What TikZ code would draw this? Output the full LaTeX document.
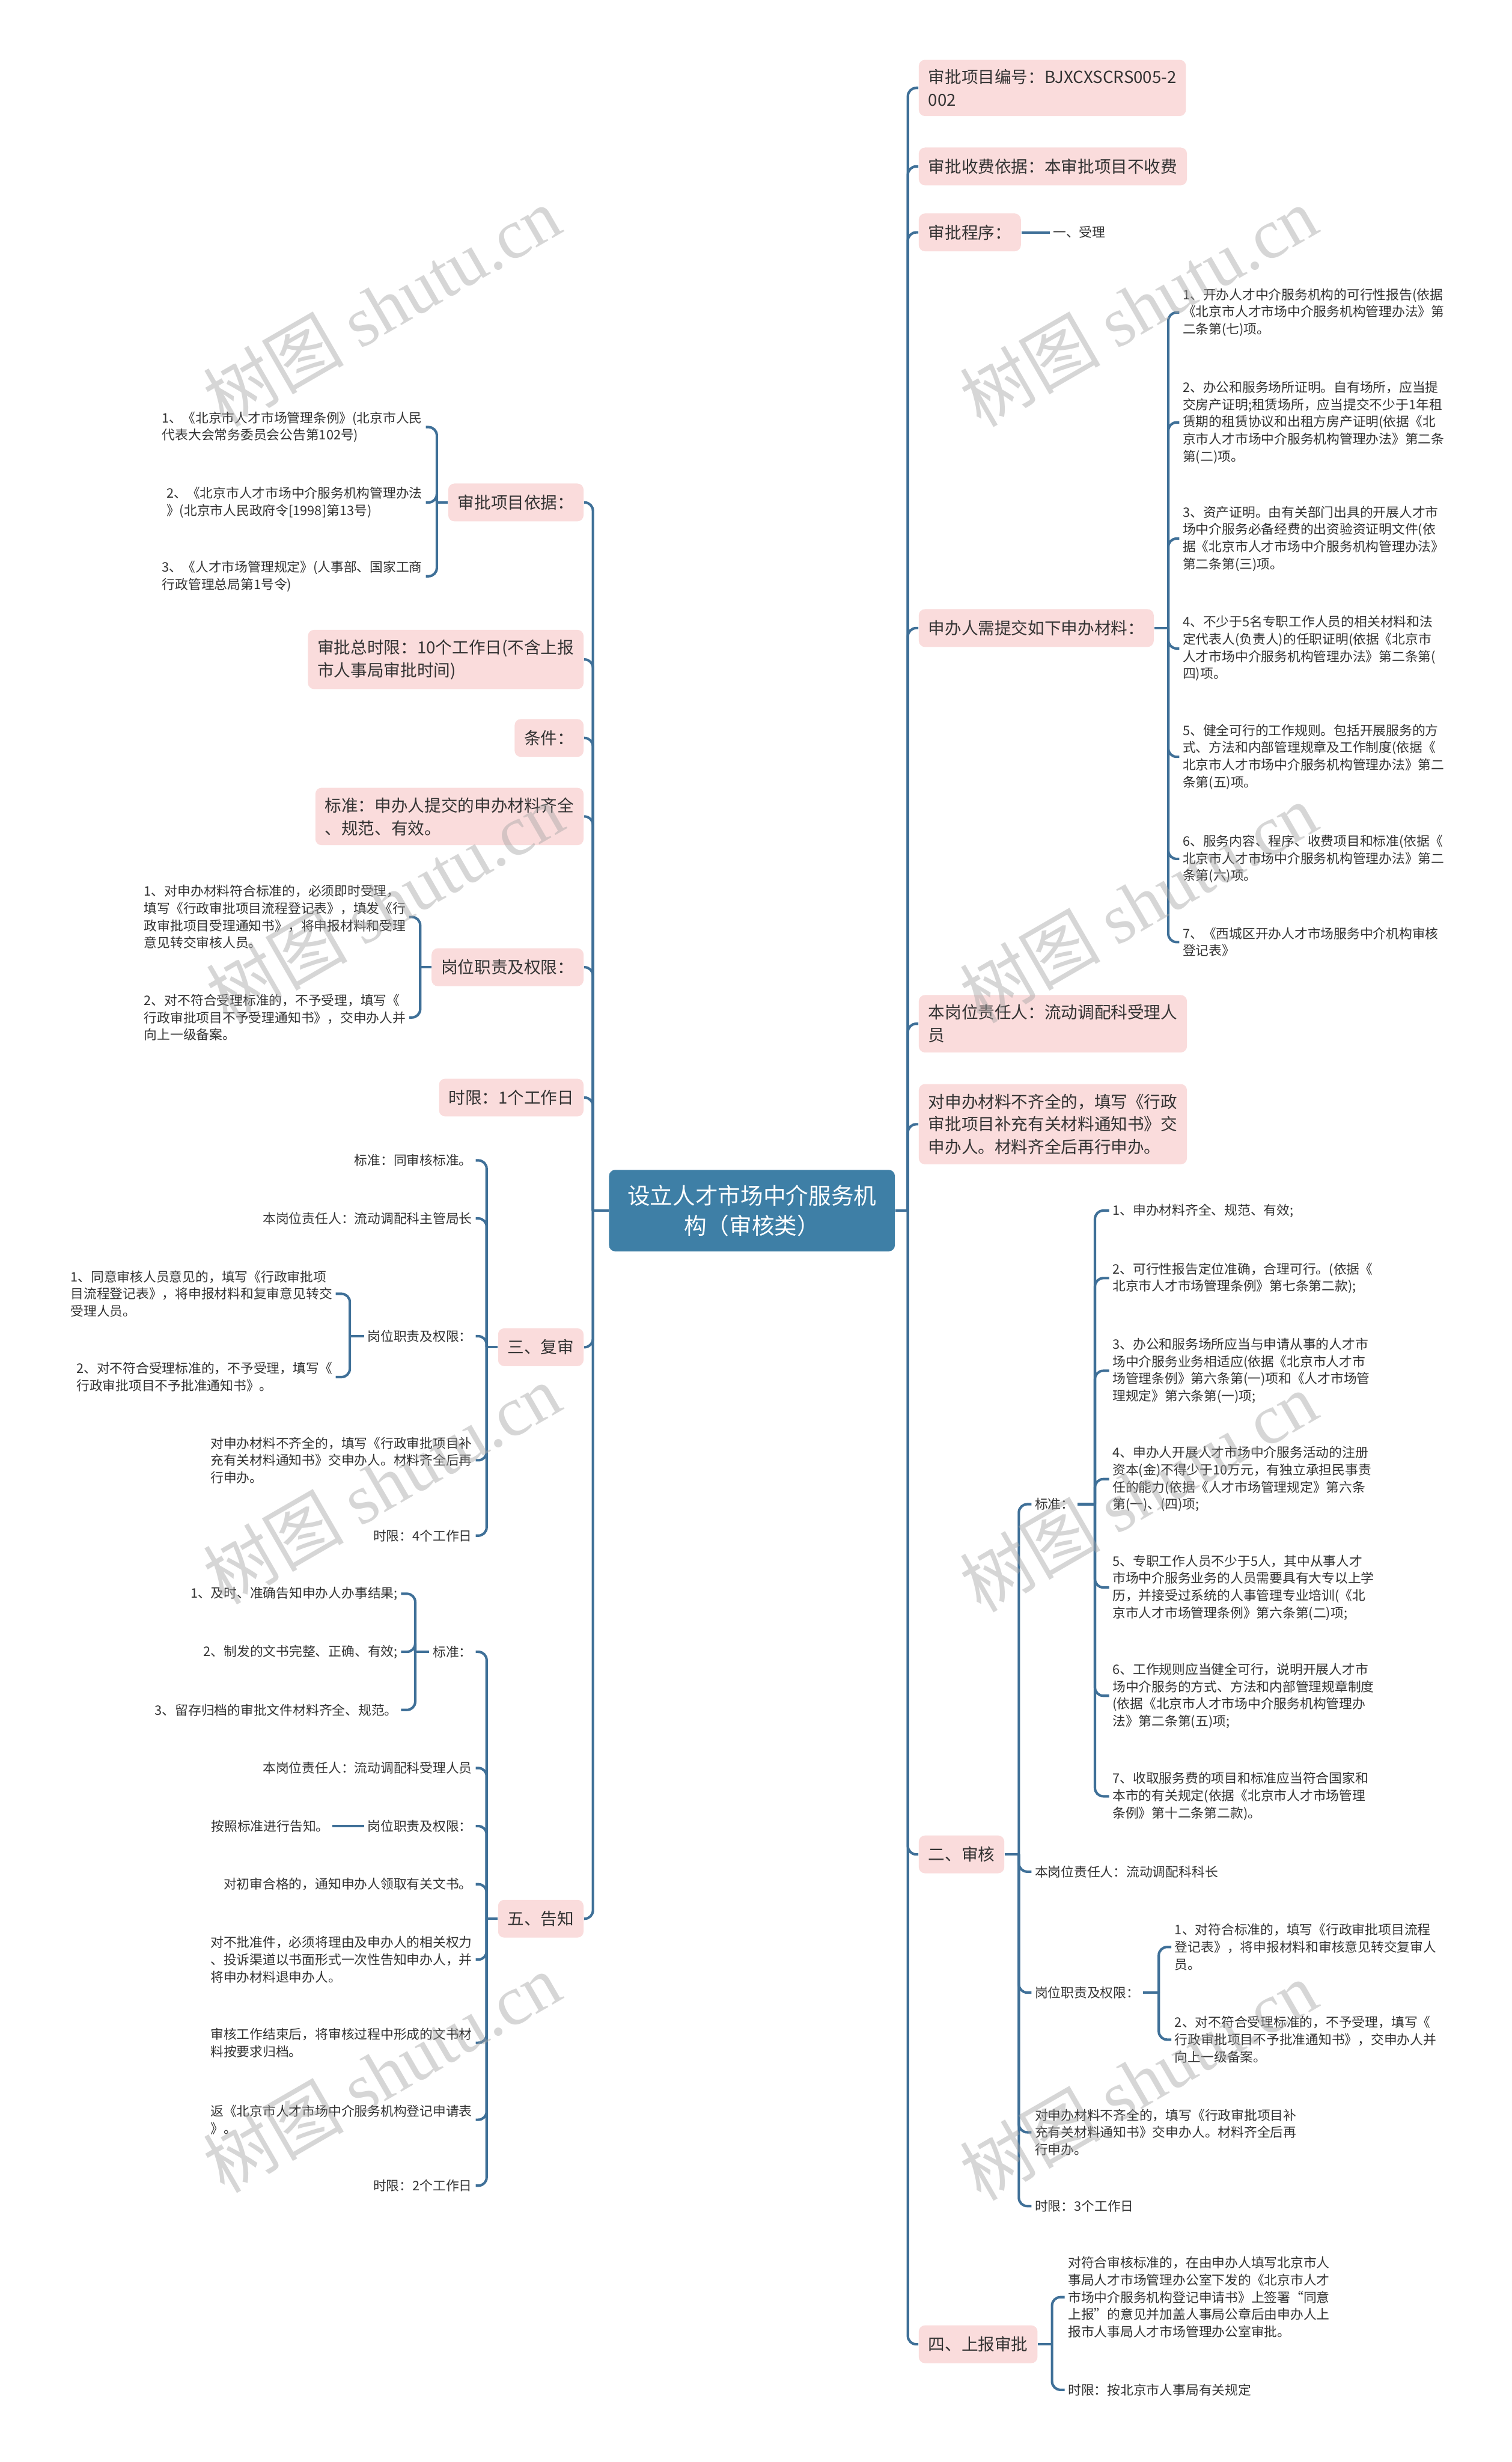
\documentclass[tikz,border=0pt]{standalone}
\usepackage{fontspec}
\setmainfont{Noto Sans CJK SC}
\newfontfamily\wmlatin{Liberation Serif}
\usetikzlibrary{positioning, calc}

\definecolor{linkblue}{HTML}{3F7098}
\definecolor{rootblue}{HTML}{3E7FA6}
\definecolor{topicpink}{HTML}{FADCDC}
\definecolor{inkgray}{HTML}{333333}

\begin{document}
\begin{tikzpicture}[x=0.02658cm, y=-0.02658cm,
  root/.style={fill=rootblue, rounded corners=3pt, text=white, align=center,
    font=\fontsize{10.9}{14.4}\selectfont, minimum width=4.84cm, minimum height=1.38cm},
  topic/.style={fill=topicpink, rounded corners=3pt, text=inkgray, align=left,
    font=\fontsize{8}{11}\selectfont, inner xsep=4.6pt, inner ysep=4.6pt, minimum height=0.64cm},
  leaf/.style={text=inkgray, align=left, font=\fontsize{6.3}{8.3}\selectfont, inner sep=1.5pt},
  wire/.style={draw=linkblue, line width=1.2pt, rounded corners=4pt},
  wmark/.style={text=black!35, text opacity=0.45, rotate=30, font=\fontsize{34}{34}\selectfont}
]
\useasboundingbox (0,0) rectangle (963,1568);
\fill[white] (0,0) rectangle (963,1568);

% centre
\node[root] (root) at (479,771) {设立人才市场中介服务机\\构（审核类）};

% left topics
\node[topic, anchor=east] (yiju) at (372,320) {审批项目依据：};
\node[topic, anchor=east] (zongshixian) at (372,420) {审批总时限：10个工作日(不含上报\\市人事局审批时间)};
\node[topic, anchor=east] (tiaojian) at (372,470) {条件：};
\node[topic, anchor=east] (biaozhun) at (372,520) {标准：申办人提交的申办材料齐全\\、规范、有效。};
\node[topic, anchor=east] (gangwei) at (372,616) {岗位职责及权限：};
\node[topic, anchor=east] (shixian) at (372,699) {时限：1个工作日};
\node[topic, anchor=east] (fushen) at (372,858) {三、复审};
\node[topic, anchor=east] (gaozhi) at (372,1222) {五、告知};

% right topics
\node[topic, anchor=west] (bianhao) at (585,56) {审批项目编号：BJXCXSCRS005-2\\002};
\node[topic, anchor=west] (shoufei) at (585,106) {审批收费依据：本审批项目不收费};
\node[topic, anchor=west] (chengxu) at (585,148) {审批程序：};
\node[topic, anchor=west] (cailiao) at (585,400) {申办人需提交如下申办材料：};
\node[topic, anchor=west] (zerenren) at (585,652) {本岗位责任人：流动调配科受理人\\员};
\node[topic, anchor=west] (buqi) at (585,716) {对申办材料不齐全的，填写《行政\\审批项目补充有关材料通知书》交\\申办人。材料齐全后再行申办。};
\node[topic, anchor=west] (shenhe) at (585,1181) {二、审核};
\node[topic, anchor=west] (shangbao) at (585,1493) {四、上报审批};

% trunks
\coordinate (lt) at ($(root.west)+(-10,0)$);
\draw[wire] (root.west) -- (lt);
\foreach \kid in {yiju,zongshixian,tiaojian,biaozhun,gangwei,shixian,fushen,gaozhi}
  \draw[wire] (lt) |- (\kid.east);
\coordinate (rt) at ($(root.east)+(8,0)$);
\draw[wire] (root.east) -- (rt);
\foreach \kid in {bianhao,shoufei,chengxu,cailiao,zerenren,buqi,shenhe,shangbao}
  \draw[wire] (rt) |- (\kid.west);

% 审批项目依据
\coordinate (yijub) at ($(yiju.west)+(-7,0)$);
\coordinate (yijuc) at ($(yijub)+(-7,0)$);
\node[leaf, anchor=east] (yiju1) at (yijuc |- 0,272) {1、《北京市人才市场管理条例》(北京市人民\\代表大会常务委员会公告第102号)};
\node[leaf, anchor=east] (yiju2) at (yijuc |- 0,320) {2、《北京市人才市场中介服务机构管理办法\\》(北京市人民政府令[1998]第13号)};
\node[leaf, anchor=east] (yiju3) at (yijuc |- 0,367) {3、《人才市场管理规定》(人事部、国家工商\\行政管理总局第1号令)};
\draw[wire] (yiju.west) -- (yijub);
\foreach \kid in {yiju1,yiju2,yiju3}
  \draw[wire] (yijub) |- (\kid.east);

% 岗位职责及权限
\coordinate (gangweib) at ($(gangwei.west)+(-7,0)$);
\coordinate (gangweic) at ($(gangweib)+(-7,0)$);
\node[leaf, anchor=east] (gw1) at (gangweic |- 0,584) {1、对申办材料符合标准的，必须即时受理，\\填写《行政审批项目流程登记表》，填发《行\\政审批项目受理通知书》，将申报材料和受理\\意见转交审核人员。};
\node[leaf, anchor=east] (gw2) at (gangweic |- 0,648) {2、对不符合受理标准的，不予受理，填写《\\行政审批项目不予受理通知书》，交申办人并\\向上一级备案。};
\draw[wire] (gangwei.west) -- (gangweib);
\foreach \kid in {gw1,gw2}
  \draw[wire] (gangweib) |- (\kid.east);

% 三、复审
\coordinate (fushenb) at ($(fushen.west)+(-7,0)$);
\coordinate (fushenc) at ($(fushenb)+(-7,0)$);
\node[leaf, anchor=east] (fs1) at (fushenc |- 0,739) {标准：同审核标准。};
\node[leaf, anchor=east] (fs2) at (fushenc |- 0,776) {本岗位责任人：流动调配科主管局长};
\node[leaf, anchor=east] (fs3) at (fushenc |- 0,851) {岗位职责及权限：};
\node[leaf, anchor=east] (fs4) at (fushenc |- 0,930) {对申办材料不齐全的，填写《行政审批项目补\\充有关材料通知书》交申办人。材料齐全后再\\行申办。};
\node[leaf, anchor=east] (fs5) at (fushenc |- 0,978) {时限：4个工作日};
\draw[wire] (fushen.west) -- (fushenb);
\foreach \kid in {fs1,fs2,fs3,fs4,fs5}
  \draw[wire] (fushenb) |- (\kid.east);
\coordinate (fs3b) at ($(fs3.west)+(-9,0)$);
\coordinate (fs3c) at ($(fs3b)+(-9,0)$);
\node[leaf, anchor=east] (fs31) at (fs3c |- 0,824) {1、同意审核人员意见的，填写《行政审批项\\目流程登记表》，将申报材料和复审意见转交\\受理人员。};
\node[leaf, anchor=east] (fs32) at (fs3c |- 0,877) {2、对不符合受理标准的，不予受理，填写《\\行政审批项目不予批准通知书》。};
\draw[wire] (fs3.west) -- (fs3b);
\foreach \kid in {fs31,fs32}
  \draw[wire] (fs3b) |- (\kid.east);

% 五、告知
\coordinate (gaozhib) at ($(gaozhi.west)+(-7,0)$);
\coordinate (gaozhic) at ($(gaozhib)+(-7,0)$);
\node[leaf, anchor=east] (gz1) at (gaozhic |- 0,1052) {标准：};
\node[leaf, anchor=east] (gz2) at (gaozhic |- 0,1126) {本岗位责任人：流动调配科受理人员};
\node[leaf, anchor=east] (gz3) at (gaozhic |- 0,1163) {岗位职责及权限：};
\node[leaf, anchor=east] (gz4) at (gaozhic |- 0,1200) {对初审合格的，通知申办人领取有关文书。};
\node[leaf, anchor=east] (gz5) at (gaozhic |- 0,1248) {对不批准件，必须将理由及申办人的相关权力\\、投诉渠道以书面形式一次性告知申办人，并\\将申办材料退申办人。};
\node[leaf, anchor=east] (gz6) at (gaozhic |- 0,1301) {审核工作结束后，将审核过程中形成的文书材\\料按要求归档。};
\node[leaf, anchor=east] (gz7) at (gaozhic |- 0,1350) {返《北京市人才市场中介服务机构登记申请表\\》。};
\node[leaf, anchor=east] (gz8) at (gaozhic |- 0,1392) {时限：2个工作日};
\draw[wire] (gaozhi.west) -- (gaozhib);
\foreach \kid in {gz1,gz2,gz3,gz4,gz5,gz6,gz7,gz8}
  \draw[wire] (gaozhib) |- (\kid.east);
\coordinate (gz1b) at ($(gz1.west)+(-9,0)$);
\coordinate (gz1c) at ($(gz1b)+(-9,0)$);
\node[leaf, anchor=east] (gz11) at (gz1c |- 0,1015) {1、及时、准确告知申办人办事结果;};
\node[leaf, anchor=east] (gz12) at (gz1c |- 0,1052) {2、制发的文书完整、正确、有效;};
\node[leaf, anchor=east] (gz13) at (gz1c |- 0,1089) {3、留存归档的审批文件材料齐全、规范。};
\draw[wire] (gz1.west) -- (gz1b);
\foreach \kid in {gz11,gz12,gz13}
  \draw[wire] (gz1b) |- (\kid.east);
\node[leaf, anchor=east] (gz31) at ($(gz3.west)+(-20,0)$) {按照标准进行告知。};
\draw[wire] (gz3.west) -- (gz31.east);

% 审批程序
\node[leaf, anchor=west] (cx1) at ($(chengxu.east)+(18,0)$) {一、受理};
\draw[wire] (chengxu.east) -- (cx1.west);

% 申办材料
\coordinate (cailiaob) at ($(cailiao.east)+(9,0)$);
\coordinate (cailiaoc) at ($(cailiaob)+(7,0)$);
\node[leaf, anchor=west] (cl1) at (cailiaoc |- 0,199) {1、开办人才中介服务机构的可行性报告(依据\\《北京市人才市场中介服务机构管理办法》第\\二条第(七)项。};
\node[leaf, anchor=west] (cl2) at (cailiaoc |- 0,269) {2、办公和服务场所证明。自有场所，应当提\\交房产证明;租赁场所，应当提交不少于1年租\\赁期的租赁协议和出租方房产证明(依据《北\\京市人才市场中介服务机构管理办法》第二条\\第(二)项。};
\node[leaf, anchor=west] (cl3) at (cailiaoc |- 0,343) {3、资产证明。由有关部门出具的开展人才市\\场中介服务必备经费的出资验资证明文件(依\\据《北京市人才市场中介服务机构管理办法》\\第二条第(三)项。};
\node[leaf, anchor=west] (cl4) at (cailiaoc |- 0,413) {4、不少于5名专职工作人员的相关材料和法\\定代表人(负责人)的任职证明(依据《北京市\\人才市场中介服务机构管理办法》第二条第(\\四)项。};
\node[leaf, anchor=west] (cl5) at (cailiaoc |- 0,482) {5、健全可行的工作规则。包括开展服务的方\\式、方法和内部管理规章及工作制度(依据《\\北京市人才市场中介服务机构管理办法》第二\\条第(五)项。};
\node[leaf, anchor=west] (cl6) at (cailiaoc |- 0,547) {6、服务内容、程序、收费项目和标准(依据《\\北京市人才市场中介服务机构管理办法》第二\\条第(六)项。};
\node[leaf, anchor=west] (cl7) at (cailiaoc |- 0,600) {7、《西城区开办人才市场服务中介机构审核\\登记表》};
\draw[wire] (cailiao.east) -- (cailiaob);
\foreach \kid in {cl1,cl2,cl3,cl4,cl5,cl6,cl7}
  \draw[wire] (cailiaob) |- (\kid.west);

% 二、审核
\coordinate (shenheb) at ($(shenhe.east)+(9,0)$);
\coordinate (shenhec) at ($(shenheb)+(8,0)$);
\node[leaf, anchor=west] (sh1) at (shenhec |- 0,958) {标准：};
\node[leaf, anchor=west] (sh2) at (shenhec |- 0,1192) {本岗位责任人：流动调配科科长};
\node[leaf, anchor=west] (sh3) at (shenhec |- 0,1269) {岗位职责及权限：};
\node[leaf, anchor=west] (sh4) at (shenhec |- 0,1358) {对申办材料不齐全的，填写《行政审批项目补\\充有关材料通知书》交申办人。材料齐全后再\\行申办。};
\node[leaf, anchor=west] (sh5) at (shenhec |- 0,1405) {时限：3个工作日};
\draw[wire] (shenhe.east) -- (shenheb);
\foreach \kid in {sh1,sh2,sh3,sh4,sh5}
  \draw[wire] (shenheb) |- (\kid.west);
\coordinate (sh1b) at ($(sh1.east)+(11,0)$);
\coordinate (sh1c) at ($(sh1b)+(9,0)$);
\node[leaf, anchor=west] (sh11) at (sh1c |- 0,771) {1、申办材料齐全、规范、有效;};
\node[leaf, anchor=west] (sh12) at (sh1c |- 0,814) {2、可行性报告定位准确，合理可行。(依据《\\北京市人才市场管理条例》第七条第二款);};
\node[leaf, anchor=west] (sh13) at (sh1c |- 0,873) {3、办公和服务场所应当与申请从事的人才市\\场中介服务业务相适应(依据《北京市人才市\\场管理条例》第六条第(一)项和《人才市场管\\理规定》第六条第(一)项;};
\node[leaf, anchor=west] (sh14) at (sh1c |- 0,942) {4、申办人开展人才市场中介服务活动的注册\\资本(金)不得少于10万元，有独立承担民事责\\任的能力(依据《人才市场管理规定》第六条\\第(一)、(四)项;};
\node[leaf, anchor=west] (sh15) at (sh1c |- 0,1011) {5、专职工作人员不少于5人，其中从事人才\\市场中介服务业务的人员需要具有大专以上学\\历，并接受过系统的人事管理专业培训(《北\\京市人才市场管理条例》第六条第(二)项;};
\node[leaf, anchor=west] (sh16) at (sh1c |- 0,1080) {6、工作规则应当健全可行，说明开展人才市\\场中介服务的方式、方法和内部管理规章制度\\(依据《北京市人才市场中介服务机构管理办\\法》第二条第(五)项;};
\node[leaf, anchor=west] (sh17) at (sh1c |- 0,1144) {7、收取服务费的项目和标准应当符合国家和\\本市的有关规定(依据《北京市人才市场管理\\条例》第十二条第二款)。};
\draw[wire] (sh1.east) -- (sh1b);
\foreach \kid in {sh11,sh12,sh13,sh14,sh15,sh16,sh17}
  \draw[wire] (sh1b) |- (\kid.west);
\coordinate (sh3b) at ($(sh3.east)+(10,0)$);
\coordinate (sh3c) at ($(sh3b)+(8,0)$);
\node[leaf, anchor=west] (sh31) at (sh3c |- 0,1240) {1、对符合标准的，填写《行政审批项目流程\\登记表》，将申报材料和审核意见转交复审人\\员。};
\node[leaf, anchor=west] (sh32) at (sh3c |- 0,1299) {2、对不符合受理标准的，不予受理，填写《\\行政审批项目不予批准通知书》，交申办人并\\向上一级备案。};
\draw[wire] (sh3.east) -- (sh3b);
\foreach \kid in {sh31,sh32}
  \draw[wire] (sh3b) |- (\kid.west);

% 四、上报审批
\coordinate (shangbaob) at ($(shangbao.east)+(9,0)$);
\coordinate (shangbaoc) at ($(shangbaob)+(8,0)$);
\node[leaf, anchor=west] (sb1) at (shangbaoc |- 0,1463) {对符合审核标准的，在由申办人填写北京市人\\事局人才市场管理办公室下发的《北京市人才\\市场中介服务机构登记申请书》上签署“同意\\上报”的意见并加盖人事局公章后由申办人上\\报市人事局人才市场管理办公室审批。};
\node[leaf, anchor=west] (sb2) at (shangbaoc |- 0,1522) {时限：按北京市人事局有关规定};
\draw[wire] (shangbao.east) -- (shangbaob);
\foreach \kid in {sb1,sb2}
  \draw[wire] (shangbaob) |- (\kid.west);

% watermarks
\node[wmark] (wm1) at (243,195) {树图 {\wmlatin shutu.cn}};
\node[wmark] (wm2) at (725,195) {树图 {\wmlatin shutu.cn}};
\node[wmark] (wm3) at (245,575) {树图 {\wmlatin shutu.cn}};
\node[wmark] (wm4) at (725,575) {树图 {\wmlatin shutu.cn}};
\node[wmark] (wm5) at (243,945) {树图 {\wmlatin shutu.cn}};
\node[wmark] (wm6) at (725,950) {树图 {\wmlatin shutu.cn}};
\node[wmark] (wm7) at (243,1320) {树图 {\wmlatin shutu.cn}};
\node[wmark] (wm8) at (725,1325) {树图 {\wmlatin shutu.cn}};
\end{tikzpicture}
\end{document}
